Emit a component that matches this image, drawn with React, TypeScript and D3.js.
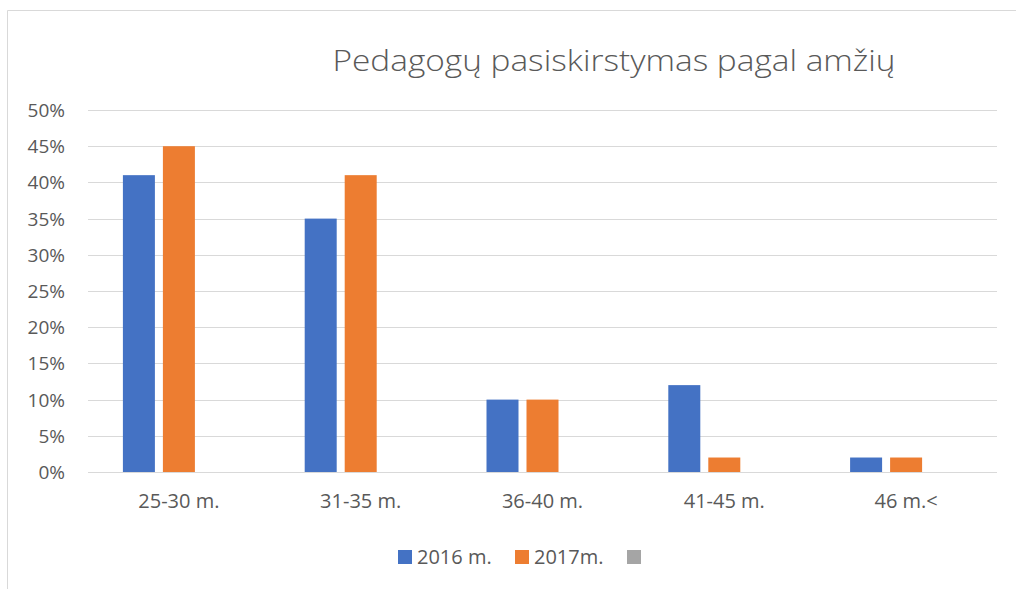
import React from "react";
import * as d3 from "d3";

const categories = ["25-30 m.", "31-35 m.", "36-40 m.", "41-45 m.", "46 m.<"];
const seriesNames = ["2016 m.", "2017m.", ""];
const values2016 = [41, 35, 10, 12, 2];
const values2017 = [45, 41, 10, 2, 2];
const values3: (number | null)[] = [null, null, null, null, null];
const yTicks = [0, 5, 10, 15, 20, 25, 30, 35, 40, 45, 50];
const colors = ["#4472C4", "#ED7D31", "#A5A5A5"];
const title = "Pedagogų pasiskirstymas pagal amžių";

export default function App() {
  const W = 1016, H = 589;
  const x0 = 88, x1 = 997, yTop = 110, yBot = 472;
  const x = d3.scaleBand<string>().domain(categories).range([x0, x1]).paddingInner(0).paddingOuter(0);
  const y = d3.scaleLinear().domain([0, 50]).range([yBot, yTop]);
  const barW = 32, gap = 8;
  const groupW = 3 * barW + 2 * gap;
  const series = [values2016, values2017, values3];
  const font = "'Open Sans', 'Liberation Sans', sans-serif";
  return (
    <svg width={W} height={H} style={{ position: "absolute", left: 0, top: 0 }} fontFamily={font}>
      <rect x={0} y={0} width={W} height={H} fill="#fff" />
      <line x1={7.5} y1={10.5} x2={W} y2={10.5} stroke="#d9d9d9" strokeWidth={1} />
      <line x1={7.5} y1={10.5} x2={7.5} y2={H} stroke="#d9d9d9" strokeWidth={1} />
      <text x={614} y={71} textAnchor="middle" fontSize={29} fontWeight={300} fill="#595959"
        textLength={563} lengthAdjust="spacingAndGlyphs">{title}</text>
      {yTicks.map((t) => (
        <g key={t}>
          <line x1={x0} x2={x1} y1={Math.round(y(t)) + 0.5} y2={Math.round(y(t)) + 0.5} stroke="#d9d9d9" strokeWidth={1} />
          <text x={65} y={y(t) + 7} textAnchor="end" fontSize={19} fill="#595959">{t}%</text>
        </g>
      ))}
      {categories.map((c, i) => {
        const cx = (x(c) as number) + x.bandwidth() / 2;
        const start = cx - groupW / 2;
        return (
          <g key={c}>
            {series.map((s, k) => {
              const v = s[i];
              if (v == null) return null;
              return (
                <rect key={k} x={start + k * (barW + gap)} y={y(v)} width={barW} height={y(0) - y(v)} fill={colors[k]} />
              );
            })}
            <text x={cx} y={508} textAnchor="middle" fontSize={20} fill="#595959">{c}</text>
          </g>
        );
      })}
      {(() => {
        const items = [
          { sx: 398, tx: 417 },
          { sx: 515, tx: 534 },
          { sx: 627, tx: 646 },
        ];
        return seriesNames.map((n, k) => (
          <g key={k}>
            <rect x={items[k].sx} y={550} width={14} height={14} fill={colors[k]} />
            {n && <text x={items[k].tx} y={564} fontSize={20} fill="#595959">{n}</text>}
          </g>
        ));
      })()}
    </svg>
  );
}
